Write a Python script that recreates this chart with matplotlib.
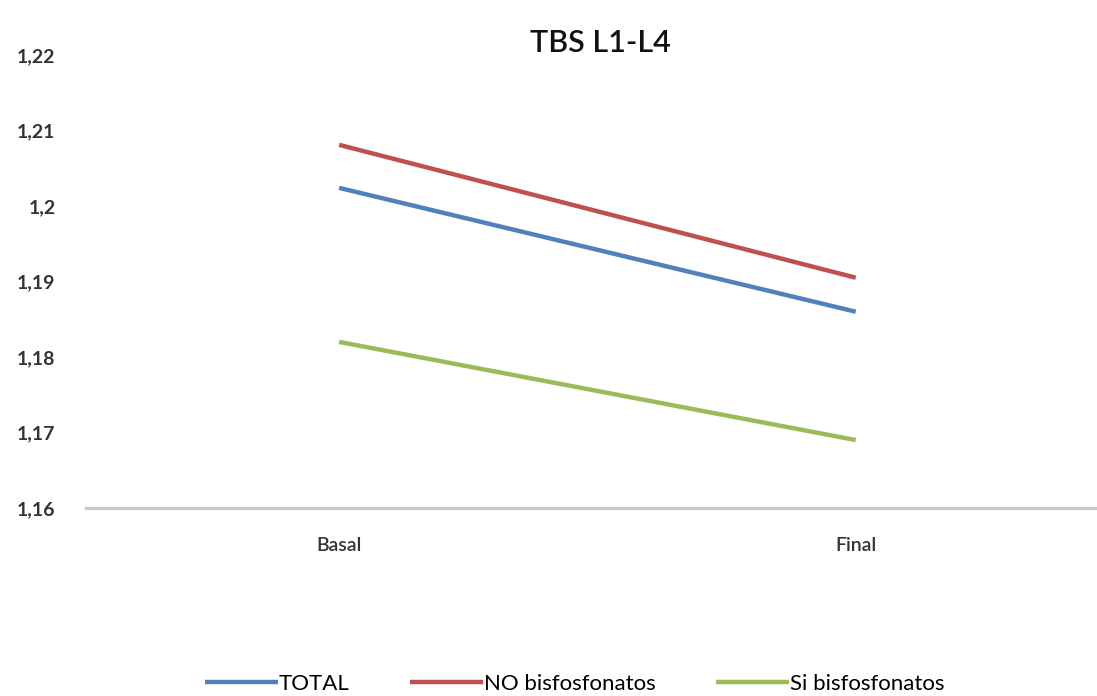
import numpy as np
import matplotlib.pyplot as plt

# TBS L1-L4 medias por grupo
momentos = ['Basal', 'Final']
total = [1.2024, 1.1860]
no_bisfosfonatos = [1.2081, 1.1905]
si_bisfosfonatos = [1.1820, 1.1690]
yticks = [1.16, 1.17, 1.18, 1.19, 1.20, 1.21, 1.22]

plt.rcParams['font.family'] = ['Lato', 'DejaVu Sans']

fig = plt.figure(figsize=(10.97, 6.96), dpi=100)
ax = fig.add_axes([86 / 1097, 188 / 696, 1011 / 1097, 453 / 696])

x = np.arange(len(momentos))
ax.plot(x, total, color='#4F81BD', lw=3.2, label='TOTAL', solid_capstyle='butt')
ax.plot(x, no_bisfosfonatos, color='#C0504D', lw=3.2, label='NO bisfosfonatos', solid_capstyle='butt')
ax.plot(x, si_bisfosfonatos, color='#9BBB59', lw=3.2, label='Si bisfosfonatos', solid_capstyle='butt')

ax.set_xlim(-0.49, 1.467)
ax.set_ylim(1.16, 1.22)
ax.set_xticks(x)
ax.set_xticklabels(momentos, fontweight='semibold')
ax.set_yticks(yticks)
ax.set_yticklabels([f'{round(v, 2):g}'.replace('.', ',') for v in yticks], fontweight='bold')

for s in ['top', 'right', 'left']:
    ax.spines[s].set_visible(False)
ax.spines['bottom'].set_color('#c8c8c8')
ax.spines['bottom'].set_linewidth(2.4)
ax.tick_params(axis='both', length=0, labelcolor='#333333')
ax.tick_params(axis='x', pad=21, labelsize=14)
ax.tick_params(axis='y', pad=22, labelsize=14)

fig.text(0.547, 0.938, 'TBS L1-L4', ha='center', va='center', fontsize=22,
         fontweight='semibold', color='#111111')

fig.legend(loc='lower center', bbox_to_anchor=(0.524, -0.026), ncol=3, frameon=False,
           fontsize=16, handlelength=3.3, columnspacing=2.7, handletextpad=0.05)

fig.savefig('out.png', dpi=100)
